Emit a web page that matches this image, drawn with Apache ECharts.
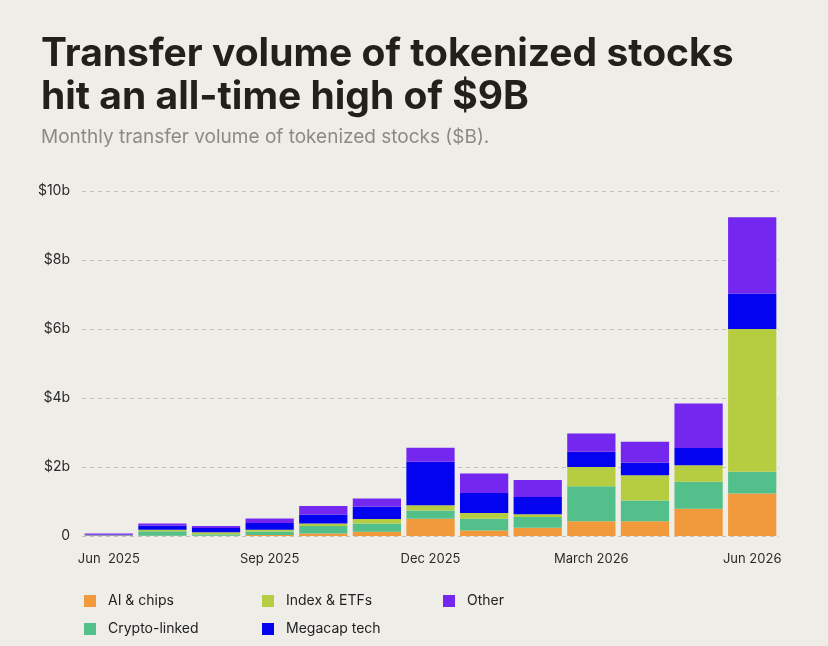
<!DOCTYPE html>
<html>
<head>
<meta charset="utf-8">
<script src="https://cdn.jsdelivr.net/npm/echarts@6/dist/echarts.min.js"></script>
<style>
  html, body { margin: 0; padding: 0; background: #efede7; }
  #chart { width: 828px; height: 646px; }
</style>
</head>
<body>
<div id="chart"></div>
<script>
// months shown on the x axis (every third label is visible)
const months = ['Jun  2025', 'Jul 2025', 'Aug 2025', 'Sep 2025', 'Oct 2025', 'Nov 2025',
    'Dec 2025', 'Jan 2026', 'Feb 2026', 'March 2026', 'Apr 2026', 'May 2026', 'Jun 2026'];

// monthly transfer volume per segment, $B
const aiChips      = [0.005, 0.01, 0.01, 0.03, 0.07, 0.12, 0.50, 0.16, 0.24, 0.43, 0.43, 0.79, 1.23];
const cryptoLinked = [0.01, 0.13, 0.04, 0.10, 0.22, 0.24, 0.24, 0.34, 0.31, 1.01, 0.60, 0.78, 0.63];
const indexEtfs    = [0.01, 0.04, 0.06, 0.05, 0.07, 0.13, 0.15, 0.17, 0.08, 0.56, 0.73, 0.48, 4.14];
const megacapTech  = [0.01, 0.12, 0.12, 0.20, 0.26, 0.36, 1.26, 0.58, 0.50, 0.44, 0.36, 0.50, 1.03];
const other        = [0.04, 0.06, 0.06, 0.13, 0.25, 0.24, 0.41, 0.56, 0.49, 0.53, 0.61, 1.29, 2.21];

const yTicks = ['0', '$2b', '$4b', '$6b', '$8b', '$10b'];

const segments = [
    { name: 'AI & chips', data: aiChips, color: '#f09a3c' },
    { name: 'Crypto-linked', data: cryptoLinked, color: '#53c08b' },
    { name: 'Index & ETFs', data: indexEtfs, color: '#b6cd42' },
    { name: 'Megacap tech', data: megacapTech, color: '#0303ef' },
    { name: 'Other', data: other, color: '#7428ef' }
];

const font = 'Inter, "Noto Sans", sans-serif';

// legend laid out as a 3-column grid, one legend per item
const legendSpots = {
    'AI & chips': [79, 589],
    'Index & ETFs': [257, 589],
    'Other': [438, 589],
    'Crypto-linked': [79, 617],
    'Megacap tech': [257, 617]
};

const chart = echarts.init(document.getElementById('chart'));

chart.setOption({
    animation: false,
    backgroundColor: '#efede7',
    title: [
        {
            text: 'Transfer volume of tokenized stocks\nhit an all-time high of $9B',
            left: 36,
            top: 28,
            textStyle: {
                fontFamily: font,
                fontSize: 39,
                fontWeight: 700,
                lineHeight: 43,
                color: '#221f1c'
            }
        },
        {
            text: 'Monthly transfer volume of tokenized stocks ($B).',
            left: 36,
            top: 123,
            textStyle: {
                fontFamily: font,
                fontSize: 19,
                fontWeight: 400,
                color: '#8d8a85'
            }
        }
    ],
    legend: segments.map(s => ({
        data: [s.name],
        left: legendSpots[s.name][0],
        top: legendSpots[s.name][1],
        icon: 'rect',
        itemWidth: 12,
        itemHeight: 12,
        selectedMode: false,
        textStyle: {
            fontFamily: font,
            fontSize: 14,
            color: '#222',
            padding: [0, 0, 0, 7]
        }
    })),
    grid: {
        left: 82,
        right: 49,
        top: 191,
        bottom: 110
    },
    xAxis: {
        type: 'category',
        data: months,
        axisLine: { show: false },
        axisTick: { show: false },
        axisLabel: {
            interval: 2,
            margin: 17,
            fontFamily: font,
            fontSize: 13,
            color: '#2a2a2a'
        }
    },
    yAxis: {
        type: 'value',
        min: 0,
        max: 10,
        interval: 2,
        axisLine: { show: false },
        axisTick: { show: false },
        axisLabel: {
            margin: 12,
            fontFamily: font,
            fontSize: 14,
            color: '#2a2a2a',
            formatter: v => yTicks[v / 2]
        },
        splitLine: {
            lineStyle: { color: '#c2c0ba', type: [4, 4], width: 1 }
        }
    },
    series: segments.map(s => ({
        name: s.name,
        type: 'bar',
        stack: 'total',
        data: s.data,
        barCategoryGap: '10%',
        itemStyle: { color: s.color }
    }))
});
</script>
</body>
</html>
